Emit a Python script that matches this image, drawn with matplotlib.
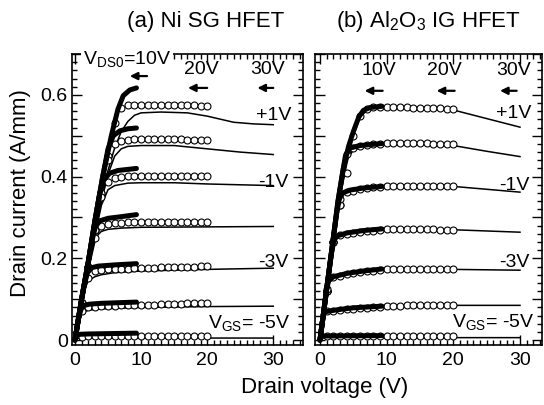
import matplotlib
matplotlib.use("Agg")
import matplotlib.pyplot as plt
from matplotlib.ticker import MultipleLocator, FuncFormatter

plt.rcParams['font.family'] = ['Liberation Sans', 'DejaVu Sans']
plt.rcParams['mathtext.fontset'] = 'custom'
plt.rcParams['mathtext.rm'] = 'Liberation Sans'
plt.rcParams['mathtext.default'] = 'regular'

# gate voltages, top to bottom: +1, 0, -1, -2, -3, -4, -5 V
vgs = [1, 0, -1, -2, -3, -4, -5]

# pulsed points, V_DS0 = 20 V (circles), same drain voltages for every curve
circ_v = [1, 2, 3, 4, 5, 6, 7, 8, 9, 10, 11, 12, 13, 14, 15, 16, 17, 18, 19, 20]

# ---------------- (a) Ni SG HFET ----------------
# V_DS0 = 10 V (thick)
a_thick_v = [
    [0, 1, 2, 3, 4.2, 5.5, 6.5, 7.3, 8.3, 9.3],
    [0, 1, 2, 3, 4.2, 5.0, 5.8, 6.8, 8.0, 9.3],
    [0, 1, 2, 3, 3.7, 4.3, 5.2, 6.5, 9.3],
    [0, 1, 2, 2.6, 3.1, 3.8, 5, 7, 9.3],
    [0, 0.8, 1.4, 1.9, 2.5, 3.5, 6, 9.3],
    [0, 0.5, 0.9, 1.4, 2.2, 4, 9.3],
    [0, 0.2, 0.5, 2, 9.3],
]
a_thick_i = [
    [0, 0.1, 0.19, 0.29, 0.40, 0.50, 0.565, 0.598, 0.612, 0.617],
    [0, 0.1, 0.19, 0.29, 0.40, 0.468, 0.50, 0.512, 0.517, 0.519],
    [0, 0.1, 0.19, 0.29, 0.355, 0.39, 0.408, 0.415, 0.42],
    [0, 0.1, 0.19, 0.245, 0.278, 0.292, 0.298, 0.302, 0.307],
    [0, 0.08, 0.135, 0.165, 0.177, 0.181, 0.184, 0.187],
    [0, 0.05, 0.075, 0.085, 0.088, 0.09, 0.093],
    [0, 0.01, 0.014, 0.015, 0.017],
]
a_circ_i = [
    [0.09, 0.18, 0.27, 0.36, 0.45, 0.53, 0.568, 0.575, 0.576, 0.576, 0.576, 0.576, 0.576, 0.575, 0.575, 0.575, 0.574, 0.574, 0.573, 0.573],
    [0.09, 0.18, 0.27, 0.36, 0.44, 0.48, 0.488, 0.49, 0.491, 0.491, 0.491, 0.491, 0.491, 0.491, 0.491, 0.491, 0.49, 0.49, 0.49, 0.49],
    [0.09, 0.18, 0.27, 0.35, 0.388, 0.397, 0.40, 0.401, 0.401, 0.402, 0.402, 0.402, 0.402, 0.402, 0.402, 0.402, 0.402, 0.402, 0.402, 0.402],
    [0.09, 0.18, 0.25, 0.278, 0.284, 0.286, 0.287, 0.288, 0.288, 0.288, 0.288, 0.289, 0.289, 0.289, 0.289, 0.289, 0.289, 0.29, 0.29, 0.29],
    [0.09, 0.152, 0.168, 0.172, 0.173, 0.174, 0.175, 0.175, 0.176, 0.176, 0.177, 0.177, 0.178, 0.178, 0.179, 0.179, 0.18, 0.18, 0.181, 0.181],
    [0.072, 0.08, 0.082, 0.083, 0.084, 0.084, 0.085, 0.085, 0.086, 0.086, 0.087, 0.087, 0.088, 0.088, 0.089, 0.089, 0.09, 0.09, 0.09, 0.09],
    [0.008, 0.009, 0.009, 0.01, 0.01, 0.01, 0.01, 0.01, 0.01, 0.01, 0.01, 0.01, 0.01, 0.01, 0.01, 0.01, 0.01, 0.01, 0.01, 0.01],
]
# V_DS0 = 30 V (thin line)
a_thin_v = [
    [0, 1, 2, 3, 4, 5, 6, 7, 8, 9, 10, 13, 17, 20, 24, 27, 30],
    [0, 1, 2, 3, 4, 5, 6, 7, 8, 10, 15, 20, 25, 30],
    [0, 1, 2, 3, 4, 5, 6, 8, 10, 15, 20, 25, 30],
    [0, 1, 2, 3, 3.5, 4, 5, 7, 10, 20, 30],
    [0, 0.8, 1.5, 2, 3, 4, 6, 10, 20, 30],
    [0, 0.5, 1, 1.5, 2, 3, 5, 10, 20, 30],
    [0, 0.3, 1, 10, 20, 30],
]
a_thin_i = [
    [0, 0.085, 0.17, 0.255, 0.34, 0.415, 0.47, 0.51, 0.535, 0.55, 0.556, 0.558, 0.556, 0.548, 0.533, 0.529, 0.527],
    [0, 0.085, 0.17, 0.255, 0.34, 0.405, 0.45, 0.468, 0.474, 0.476, 0.476, 0.468, 0.46, 0.454],
    [0, 0.085, 0.17, 0.255, 0.33, 0.368, 0.378, 0.384, 0.385, 0.385, 0.382, 0.38, 0.378],
    [0, 0.085, 0.17, 0.24, 0.258, 0.266, 0.271, 0.274, 0.276, 0.277, 0.278],
    [0, 0.07, 0.125, 0.145, 0.155, 0.16, 0.165, 0.169, 0.173, 0.176],
    [0, 0.04, 0.062, 0.07, 0.073, 0.075, 0.077, 0.08, 0.082, 0.083],
    [0, 0.004, 0.005, 0.005, 0.005, 0.005],
]

# ---------------- (b) Al2O3 IG HFET ----------------
b_thick_v = [
    [0, 1, 2, 2.7, 3.5, 4.3, 5, 5.8, 6.5, 7.5, 9.3],
    [0, 1, 2, 2.7, 3.3, 3.8, 4.5, 6, 9.3],
    [0, 1, 2, 2.5, 2.9, 3.4, 4.5, 6.5, 9.3],
    [0, 1, 1.7, 2.1, 2.6, 4, 6.5, 9.3],
    [0, 0.6, 1.0, 1.3, 2, 4, 6.5, 9.3],
    [0, 0.3, 0.55, 1, 2.5, 5, 9.3],
    [0, 0.1, 0.5, 9.3],
]
b_thick_i = [
    [0, 0.125, 0.25, 0.34, 0.42, 0.475, 0.51, 0.545, 0.562, 0.569, 0.572],
    [0, 0.125, 0.25, 0.34, 0.40, 0.45, 0.47, 0.476, 0.481],
    [0, 0.125, 0.25, 0.31, 0.345, 0.36, 0.367, 0.372, 0.376],
    [0, 0.125, 0.21, 0.245, 0.255, 0.262, 0.268, 0.272],
    [0, 0.075, 0.125, 0.145, 0.155, 0.163, 0.169, 0.174],
    [0, 0.04, 0.065, 0.07, 0.074, 0.079, 0.083],
    [0, 0.008, 0.01, 0.011],
]
b_circ_i = [
    [0.12, 0.24, 0.33, 0.41, 0.5, 0.548, 0.565, 0.57, 0.571, 0.571, 0.571, 0.57, 0.57, 0.569, 0.569, 0.568, 0.567, 0.567, 0.566, 0.566],
    [0.12, 0.24, 0.33, 0.455, 0.47, 0.475, 0.478, 0.48, 0.481, 0.482, 0.482, 0.482, 0.482, 0.482, 0.482, 0.482, 0.481, 0.481, 0.48, 0.48],
    [0.12, 0.24, 0.345, 0.362, 0.366, 0.369, 0.372, 0.374, 0.375, 0.376, 0.377, 0.377, 0.378, 0.378, 0.378, 0.378, 0.378, 0.378, 0.378, 0.378],
    [0.12, 0.24, 0.256, 0.26, 0.262, 0.264, 0.266, 0.268, 0.27, 0.271, 0.271, 0.271, 0.271, 0.271, 0.271, 0.271, 0.271, 0.27, 0.27, 0.27],
    [0.125, 0.155, 0.158, 0.161, 0.163, 0.166, 0.168, 0.17, 0.172, 0.173, 0.174, 0.174, 0.174, 0.174, 0.174, 0.174, 0.174, 0.174, 0.173, 0.173],
    [0.07, 0.072, 0.074, 0.075, 0.077, 0.078, 0.079, 0.081, 0.082, 0.083, 0.084, 0.084, 0.085, 0.085, 0.085, 0.085, 0.085, 0.085, 0.085, 0.085],
    [0.01, 0.01, 0.01, 0.01, 0.01, 0.01, 0.01, 0.01, 0.01, 0.01, 0.01, 0.01, 0.01, 0.01, 0.01, 0.01, 0.01, 0.01, 0.01, 0.01],
]
b_thin_v = [
    [0, 1, 2, 3, 4, 5, 6, 7, 8, 10, 15, 20, 25, 30],
    [0, 1, 2, 3, 3.5, 4, 5, 7, 10, 15, 20, 25, 30],
    [0, 1, 2, 2.6, 3, 3.5, 4.5, 7, 10, 15, 20, 25, 30],
    [0, 1, 1.7, 2.1, 2.6, 4, 7, 10, 20, 30],
    [0, 0.6, 1, 1.3, 2, 4, 7, 10, 20, 30],
    [0, 0.3, 0.55, 1, 2.5, 5, 10, 20, 30],
    [0, 0.2, 1, 10, 20, 30],
]
b_thin_i = [
    [0, 0.12, 0.24, 0.35, 0.43, 0.5, 0.545, 0.562, 0.568, 0.57, 0.568, 0.563, 0.542, 0.521],
    [0, 0.12, 0.24, 0.35, 0.40, 0.44, 0.465, 0.474, 0.478, 0.479, 0.476, 0.462, 0.449],
    [0, 0.12, 0.24, 0.305, 0.34, 0.356, 0.365, 0.372, 0.376, 0.377, 0.376, 0.369, 0.362],
    [0, 0.12, 0.205, 0.24, 0.252, 0.26, 0.267, 0.27, 0.27, 0.264],
    [0, 0.072, 0.12, 0.14, 0.15, 0.16, 0.168, 0.172, 0.173, 0.171],
    [0, 0.036, 0.06, 0.066, 0.072, 0.077, 0.082, 0.085, 0.085],
    [0, 0.005, 0.006, 0.006, 0.006, 0.006],
]


def draw_curves(ax, thin_v, thin_i, circ_i, thick_v, thick_i):
    for k in range(len(vgs)):
        ax.plot(thin_v[k], thin_i[k], color='k', lw=1.1, zorder=2)
        ax.plot(circ_v, circ_i[k], ls='none', marker='o', ms=5, mfc='white',
                mec='k', mew=0.8, zorder=3)
        ax.plot(thick_v[k], thick_i[k], color='k', lw=3.6, zorder=4,
                solid_capstyle='round', solid_joinstyle='round')


def style_axis(ax, xlim, show_ylabels):
    ax.set_xlim(*xlim)
    ax.set_ylim(-0.012, 0.70)
    ax.xaxis.set_major_locator(MultipleLocator(10))
    ax.xaxis.set_minor_locator(MultipleLocator(1))
    ax.yaxis.set_major_locator(MultipleLocator(0.1))
    ax.yaxis.set_minor_locator(MultipleLocator(0.02))
    ax.tick_params(which='both', direction='in', top=True, right=True,
                   width=1.0, labelsize=14)
    ax.tick_params(which='major', length=7)
    ax.tick_params(which='minor', length=3.5)
    ax.tick_params(axis='x', pad=5)
    ax.tick_params(axis='y', pad=3)
    for s in ax.spines.values():
        s.set_linewidth(1.2)
    if show_ylabels:
        ax.yaxis.set_major_formatter(FuncFormatter(
            lambda v, p: ('0' if abs(v) < 1e-9 else '%.1f' % v) if round(v * 10) % 2 == 0 else ''))
    else:
        ax.set_yticklabels([])


def arrow(ax, x0, x1, y):
    ax.annotate('', xy=(x0, y), xytext=(x1, y),
                arrowprops=dict(arrowstyle='-|>', color='k', lw=1.6,
                                mutation_scale=11, shrinkA=0, shrinkB=0))


fig = plt.figure(figsize=(5.44, 4.05), dpi=100)
ax_a = fig.add_axes([72 / 544, 60 / 405, 231 / 544, 291 / 405])
ax_b = fig.add_axes([315 / 544, 60 / 405, 227 / 544, 291 / 405])

# panel (a)
draw_curves(ax_a, a_thin_v, a_thin_i, a_circ_i, a_thick_v, a_thick_i)
style_axis(ax_a, (-0.45, 34.5), True)
ax_a.text(1.2, 0.688, 'V$_{DS0}$=10V', fontsize=14, ha='left', va='center',
          zorder=10, bbox=dict(fc='white', ec='none', pad=1.5))
ax_a.text(19.1, 0.663, '20V', fontsize=14, ha='center', va='center')
ax_a.text(29.1, 0.663, '30V', fontsize=14, ha='center', va='center')
arrow(ax_a, 8.3, 10.9, 0.646)
arrow(ax_a, 17.1, 20.0, 0.617)
arrow(ax_a, 27.6, 30.0, 0.617)
ax_a.text(30, 0.549, '+1V', fontsize=14, ha='center', va='center')
ax_a.text(30, 0.385, '-1V', fontsize=14, ha='center', va='center')
ax_a.text(30, 0.19, '-3V', fontsize=14, ha='center', va='center')
ax_a.text(32.6, 0.041, 'V$_{GS}$= -5V', fontsize=14, ha='right', va='center')

# panel (b)
draw_curves(ax_b, b_thin_v, b_thin_i, b_circ_i, b_thick_v, b_thick_i)
style_axis(ax_b, (-0.75, 33.3), False)
ax_b.text(8.85, 0.659, '10V', fontsize=14, ha='center', va='center')
ax_b.text(18.6, 0.659, '20V', fontsize=14, ha='center', va='center')
ax_b.text(29.1, 0.659, '30V', fontsize=14, ha='center', va='center')
arrow(ax_b, 6.7, 9.4, 0.61)
arrow(ax_b, 17.5, 20.2, 0.61)
arrow(ax_b, 27.0, 29.5, 0.61)
ax_b.text(29.1, 0.554, '+1V', fontsize=14, ha='center', va='center')
ax_b.text(29.2, 0.378, '-1V', fontsize=14, ha='center', va='center')
ax_b.text(29.1, 0.19, '-3V', fontsize=14, ha='center', va='center')
ax_b.text(32.2, 0.044, 'V$_{GS}$= -5V', fontsize=14, ha='right', va='center')

fig.text(206 / 544, 1 - 22 / 405, '(a) Ni SG HFET', fontsize=16, ha='center', va='center')
fig.text(428 / 544, 1 - 22 / 405, '(b) Al$_2$O$_3$ IG HFET', fontsize=16, ha='center', va='center')
fig.text(21 / 544, 1 - 193 / 405, 'Drain current (A/mm)', fontsize=16, rotation=90,
         ha='center', va='center')
fig.text(325 / 544, 1 - 388 / 405, 'Drain voltage (V)', fontsize=16, ha='center', va='center')

fig.savefig('out.png', dpi=100)
